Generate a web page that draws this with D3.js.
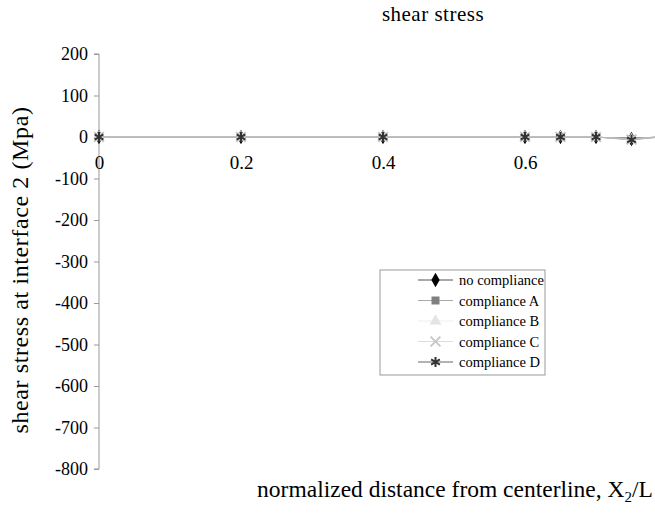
<!DOCTYPE html>
<html>
<head>
<meta charset="utf-8">
<title>shear stress</title>
<style>
  body { margin: 0; background: #fff; }
  svg text { font-family: "Liberation Serif", "Times New Roman", serif; fill: #000; }
</style>
</head>
<body>
<div id="chart"></div>
<script src="https://d3js.org/d3.v7.min.js"></script>
<script>
// chart data
const xValues = [0, 0.2, 0.4, 0.6, 0.65, 0.7, 0.75, 0.8];
const noCompliance = [0, 0, 0, 0, 0, 0, -5, 2];
const complianceA  = [0, 0, 0, 0, 0, 0, -5, 2];
const complianceB  = [0, 0, 0, 0, 0, 0, -6, 2];
const complianceC  = [0, 0, 0, 0, 0, 0, -6, 2];
const complianceD  = [0, 0, 0, 0, 0, 0, -7, 2];
const seriesNames = ["no compliance", "compliance A", "compliance B", "compliance C", "compliance D"];
const yTicks = [200, 100, 0, -100, -200, -300, -400, -500, -600, -700, -800];
const xTicks = [0, 0.2, 0.4, 0.6];

const series = [
  { name: seriesNames[0], values: noCompliance, symbol: d3.symbolDiamond, fill: "#000", stroke: null, line: "#555", size: 60 },
  { name: seriesNames[1], values: complianceA, symbol: d3.symbolSquare, fill: "#808080", stroke: null, line: "#aaa", size: 64 },
  { name: seriesNames[2], values: complianceB, symbol: d3.symbolTriangle, fill: "#e4e4e4", stroke: null, line: "#eee", size: 60 },
  { name: seriesNames[3], values: complianceC, symbol: d3.symbolTimes, fill: "none", stroke: "#c8c8c8", line: "#ddd", size: 64 },
  { name: seriesNames[4], values: complianceD, symbol: d3.symbolAsterisk, fill: "none", stroke: "#333", line: "#666", size: 72 }
];

const width = 655, height = 518;

const svg = d3.select("#chart").append("svg")
  .attr("width", width)
  .attr("height", height);

const x = d3.scaleLinear().domain([0, 0.8]).range([99, 667]);
const y = d3.scaleLinear().domain([-800, 200]).range([469, 54]);

// y axis
const yAxis = svg.append("g")
  .attr("transform", "translate(" + x(0) + ",0)")
  .call(d3.axisLeft(y).tickValues(yTicks).tickSize(5).tickPadding(6)
    .tickFormat(d => String(d)));
yAxis.select(".domain").attr("stroke", "#999").attr("d", "M-5," + y(200) + "H0V" + y(-800) + "H-5");
yAxis.selectAll(".tick line").attr("stroke", "#999");
yAxis.selectAll(".tick text").style("font-size", "18px");

// x axis along zero
const xAxis = svg.append("g")
  .attr("transform", "translate(0," + y(0) + ")")
  .call(d3.axisBottom(x).tickValues(xTicks).tickSize(0).tickPadding(19)
    .tickFormat(d => String(d)));
xAxis.select(".domain").attr("stroke", "#999");
xAxis.selectAll(".tick text").style("font-size", "19px");

// lines
const line = d3.line()
  .x((d, i) => x(xValues[i]))
  .y(d => y(d));

series.forEach(s => {
  svg.append("path")
    .datum(s.values)
    .attr("fill", "none")
    .attr("stroke", "#bbb")
    .attr("stroke-width", 1.2)
    .attr("d", line);
});

// markers
series.forEach(s => {
  svg.append("g").selectAll("path")
    .data(s.values.slice(0, 7))
    .enter().append("path")
    .attr("transform", (d, i) => "translate(" + x(xValues[i]) + "," + y(d) + ")")
    .attr("d", d3.symbol().type(s.symbol).size(s.size))
    .attr("fill", s.fill)
    .attr("stroke", s.stroke)
    .attr("stroke-width", s.stroke ? 2 : null);
});

// legend
const legend = svg.append("g").attr("transform", "translate(380,270)");
legend.append("rect")
  .attr("width", 165).attr("height", 105)
  .attr("fill", "#fff").attr("stroke", "#999");

const rows = legend.selectAll("g.row")
  .data(series).enter().append("g")
  .attr("transform", (d, i) => "translate(0," + (10 + i * 20.5) + ")");
rows.append("line")
  .attr("x1", 38).attr("x2", 73)
  .attr("stroke", d => d.line).attr("stroke-width", 1);
rows.append("path")
  .attr("transform", "translate(55.5,0)")
  .attr("d", d => d3.symbol().type(d.symbol).size(d.size)())
  .attr("fill", d => d.fill)
  .attr("stroke", d => d.stroke)
  .attr("stroke-width", d => d.stroke ? 2 : null);
rows.append("text")
  .attr("x", 79).attr("dy", "0.35em")
  .style("font-size", "14.5px")
  .text(d => d.name);

// titles
svg.append("text")
  .attr("x", 433).attr("y", 21)
  .attr("text-anchor", "middle")
  .style("font-size", "21px")
  .style("letter-spacing", "0.5px")
  .text("shear stress");

svg.append("text")
  .attr("transform", "translate(28,270) rotate(-90)")
  .attr("text-anchor", "middle")
  .style("font-size", "24px")
  .style("letter-spacing", "0.6px")
  .text("shear stress at interface 2 (Mpa)");

const xt = svg.append("text")
  .attr("x", 455).attr("y", 497)
  .attr("text-anchor", "middle")
  .style("font-size", "23.5px");
xt.append("tspan").text("normalized distance from centerline, X");
xt.append("tspan").attr("dy", 5).style("font-size", "15px").text("2");
xt.append("tspan").attr("dy", -5).text("/L");
</script>
</body>
</html>
